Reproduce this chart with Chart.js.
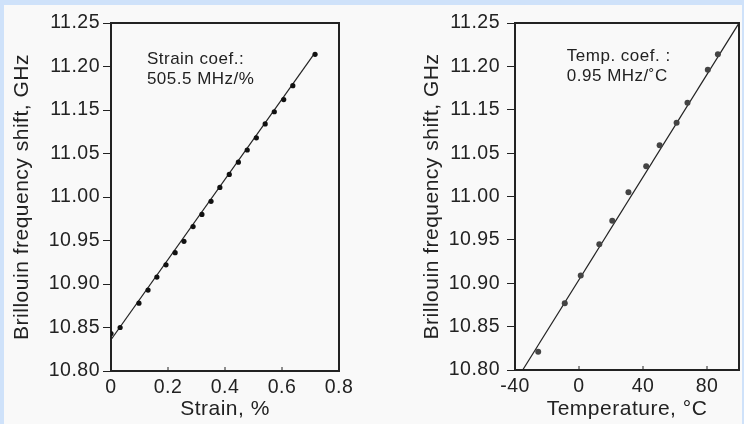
<!DOCTYPE html>
<html>
<head>
<meta charset="utf-8">
<script src="https://cdn.jsdelivr.net/npm/chart.js@4/dist/chart.umd.min.js"></script>
<style>
  html, body { margin: 0; padding: 0; background: #cfe2fa; }
  #paper { position: absolute; left: 4px; top: 5px; width: 738px; height: 419px; background: #f9f9f9; }
  canvas { position: absolute; top: 0; }
</style>
</head>
<body>
<div id="paper"></div>
<canvas id="chart1" width="372" height="424" style="left:0;width:372px;height:424px"></canvas>
<canvas id="chart2" width="372" height="424" style="left:372px;width:372px;height:424px"></canvas>
<script>
// Dados (eixo y: a figura original pula o rótulo 11.10)
const yTickValues = [10.80, 10.85, 10.90, 10.95, 11.00, 11.05, 11.10, 11.15, 11.20];
const yTickLabels = ["10.80", "10.85", "10.90", "10.95", "11.00", "11.05", "11.15", "11.20", "11.25"];

const strainTicks = [0, 0.2, 0.4, 0.6, 0.8];
const strainTickLabels = ["0", "0.2", "0.4", "0.6", "0.8"];
const strainX = [0, 0.032, 0.098, 0.130, 0.161, 0.193, 0.225, 0.256, 0.288, 0.319, 0.351,
                 0.382, 0.415, 0.447, 0.478, 0.510, 0.541, 0.573, 0.606, 0.638, 0.716];
const strainY = [10.843, 10.850, 10.878, 10.893, 10.908, 10.922, 10.936, 10.949, 10.966, 10.980, 10.995,
                 11.011, 11.026, 11.040, 11.054, 11.068, 11.084, 11.098, 11.112, 11.128, 11.164];
const strainFitX = [0, 0.716];
const strainFitY = [10.836, 11.166];
const strainNote = ["Strain coef.:", "505.5 MHz/%"];

const tempTicks = [-40, 0, 40, 80];
const tempTickLabels = ["-40", "0", "40", "80"];
const tempX = [-25.5, -8.9, 1.1, 12.7, 20.8, 30.9, 42.0, 50.4, 61.0, 67.8, 80.5, 86.8];
const tempY = [10.821, 10.877, 10.909, 10.945, 10.972, 11.005, 11.035, 11.059, 11.085, 11.108, 11.146, 11.164];
const tempFitX = [-35.2, 100];
const tempFitY = [10.80, 11.20];
const tempNote = ["Temp. coef. :", "0.95 MHz/\u02daC"];

const ink = "#222";
const fontName = "'Liberation Sans', Arial, sans-serif";

// moldura, ticks internos do eixo x e texto de anotação
const framePlugin = {
    id: "frame",
    beforeUpdate(chart) { chart.ctx.letterSpacing = "0.5px"; },
    beforeDraw(chart) { chart.ctx.letterSpacing = "0.5px"; },
    beforeDatasetsDraw(chart) {
        const {ctx, chartArea: a, scales} = chart;
        ctx.save();
        ctx.strokeStyle = ink;
        ctx.lineWidth = 2;
        ctx.strokeRect(a.left, a.top, a.right - a.left, a.bottom - a.top);
        ctx.lineWidth = 1;
        scales.x.ticks.forEach(t => {
            const px = scales.x.getPixelForValue(t.value);
            ctx.beginPath();
            ctx.moveTo(px, a.bottom);
            ctx.lineTo(px, a.bottom - 4);
            ctx.stroke();
        });
        ctx.restore();
    },
    afterDatasetsDraw(chart) {
        const {ctx, scales} = chart;
        const o = chart.options.plugins.frame;
        ctx.save();
        ctx.fillStyle = ink;
        ctx.font = "17px " + fontName;
        ctx.textBaseline = "top";
        const tx = scales.x.getPixelForValue(o.noteX);
        const ty = scales.y.getPixelForValue(o.noteY);
        o.note.forEach((line, i) => ctx.fillText(line, tx, ty + i * 20));
        ctx.restore();
    }
};

function fazerGrafico(id, cfg) {
    const ctx = document.getElementById(id).getContext("2d");
    return new Chart(ctx, {
        type: "scatter",
        data: {
            datasets: [{
                data: cfg.xs.map((x, i) => ({x: x, y: cfg.ys[i]})),
                backgroundColor: cfg.pointColor,
                borderColor: cfg.pointColor,
                pointRadius: cfg.pointRadius,
                pointBorderWidth: 0
            }, {
                type: "line",
                data: cfg.fitX.map((x, i) => ({x: x, y: cfg.fitY[i]})),
                borderColor: ink,
                borderWidth: 1.2,
                pointRadius: 0,
                fill: false
            }]
        },
        options: {
            responsive: false,
            animation: false,
            events: [],
            layout: { padding: cfg.padding },
            plugins: {
                legend: { display: false },
                tooltip: { enabled: false },
                frame: { note: cfg.note, noteX: cfg.noteX, noteY: cfg.noteY }
            },
            scales: {
                x: {
                    type: "linear",
                    min: cfg.xMin,
                    max: cfg.xMax,
                    afterBuildTicks: s => { s.ticks = cfg.xTicks.map(v => ({value: v})); },
                    afterFit: s => { s.height = cfg.xHeight; },
                    grid: { display: false, drawTicks: false },
                    border: { display: false },
                    ticks: {
                        color: ink,
                        padding: 5,
                        maxRotation: 0,
                        autoSkip: false,
                        font: { family: fontName, size: 19.5 },
                        callback: (v, i) => cfg.xTickLabels[i]
                    },
                    title: {
                        display: true,
                        text: cfg.xTitle,
                        color: ink,
                        padding: { top: 0, bottom: 2 },
                        font: { family: fontName, size: 21 }
                    }
                },
                y: {
                    type: "linear",
                    min: 10.80,
                    max: 11.20,
                    afterBuildTicks: s => { s.ticks = yTickValues.map(v => ({value: v})); },
                    afterFit: s => { s.width = cfg.yWidth; },
                    grid: { drawOnChartArea: false, drawTicks: true, tickLength: 8, color: ink },
                    border: { display: false },
                    ticks: {
                        color: ink,
                        padding: cfg.yTickPad,
                        autoSkip: false,
                        font: { family: fontName, size: 19.5 },
                        callback: (v, i) => yTickLabels[i]
                    },
                    title: {
                        display: true,
                        text: "Brillouin frequency shift, GHz",
                        color: ink,
                        padding: 0,
                        font: { family: fontName, size: 21 }
                    }
                }
            }
        },
        plugins: [framePlugin]
    });
}

fazerGrafico("chart1", {
    xs: strainX, ys: strainY, fitX: strainFitX, fitY: strainFitY,
    xMin: 0, xMax: 0.8, xTicks: strainTicks, xTickLabels: strainTickLabels,
    xTitle: "Strain, %", pointColor: "#111", pointRadius: 2.6,
    note: strainNote, noteX: 0.126, noteY: 11.168,
    padding: { left: 10, top: 23, right: 33, bottom: 0 },
    yWidth: 101, xHeight: 53, yTickPad: 3
});

fazerGrafico("chart2", {
    xs: tempX, ys: tempY, fitX: tempFitX, fitY: tempFitY,
    xMin: -40, xMax: 100, xTicks: tempTicks, xTickLabels: tempTickLabels,
    xTitle: "Temperature, \u00b0C", pointColor: "#444", pointRadius: 3,
    note: tempNote, noteX: -7.6, noteY: 11.171,
    padding: { left: 48, top: 23, right: 5, bottom: 0 },
    yWidth: 95, xHeight: 54, yTickPad: 7
});
</script>
</body>
</html>
